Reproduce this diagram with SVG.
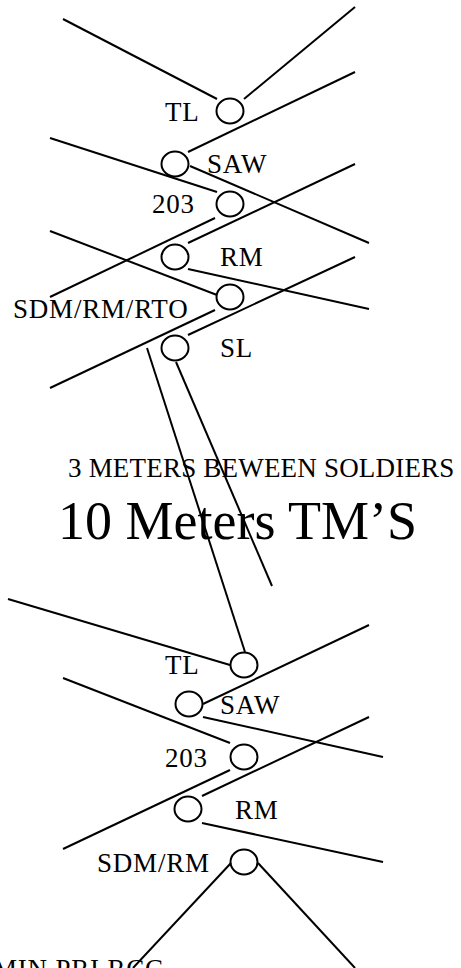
<svg xmlns="http://www.w3.org/2000/svg" width="461" height="968" viewBox="0 0 461 968">
<style>
.n{fill:none;stroke:#000;stroke-width:2}
.c line{stroke:#000;stroke-width:2;fill:none}
text{font-family:"Liberation Serif","Times New Roman",serif;fill:#000;font-size:27px;letter-spacing:0.8px}
.big{font-size:54px;letter-spacing:0}
.t3{letter-spacing:0.2px}
</style>
<rect width="461" height="968" fill="#fff"/>
<g id="connectors" class="c">
<line x1="217" y1="99" x2="63" y2="19"/>
<line x1="244" y1="99" x2="355" y2="7"/>
<line x1="188" y1="152" x2="355" y2="72"/>
<line x1="50" y1="138" x2="217" y2="192"/>
<line x1="190" y1="166" x2="369" y2="243"/>
<line x1="355" y1="164" x2="188" y2="243"/>
<line x1="215" y1="218" x2="50" y2="297"/>
<line x1="50" y1="231" x2="217" y2="295"/>
<line x1="188" y1="269" x2="369" y2="309"/>
<line x1="215" y1="310" x2="50" y2="388"/>
<line x1="188" y1="335" x2="355" y2="257"/>
<line x1="147" y1="348" x2="245" y2="652"/>
<line x1="176" y1="362" x2="272" y2="586"/>
<line x1="230" y1="665" x2="8" y2="599"/>
<line x1="203" y1="704" x2="369" y2="625"/>
<line x1="63" y1="678" x2="230" y2="743"/>
<line x1="203" y1="717" x2="383" y2="757"/>
<line x1="369" y1="717" x2="202" y2="796"/>
<line x1="230" y1="770" x2="63" y2="849"/>
<line x1="202" y1="823" x2="383" y2="862"/>
<line x1="231" y1="863" x2="133" y2="968"/>
<line x1="258" y1="863" x2="355" y2="968"/>
</g>
<g id="tl1"><ellipse class="n" cx="230" cy="111" rx="13.5" ry="12.5"/><text x="165" y="121">TL</text></g>
<g id="saw1"><ellipse class="n" cx="175" cy="164" rx="13.5" ry="12.5"/><text x="207" y="173">SAW</text></g>
<g id="g203a"><ellipse class="n" cx="230" cy="204" rx="13.5" ry="12.5"/><text x="152" y="213">203</text></g>
<g id="rm1"><ellipse class="n" cx="175" cy="257" rx="13.5" ry="12.5"/><text x="220" y="266">RM</text></g>
<g id="sdm1"><ellipse class="n" cx="230" cy="297" rx="13.5" ry="12.5"/><text x="13" y="318">SDM/RM/RTO</text></g>
<g id="sl"><ellipse class="n" cx="175" cy="348" rx="13.5" ry="12.5"/><text x="220" y="357">SL</text></g>
<g id="tl2"><ellipse class="n" cx="244" cy="665" rx="13.5" ry="12.5"/><text x="165" y="674">TL</text></g>
<g id="saw2"><ellipse class="n" cx="189" cy="704" rx="13.5" ry="12.5"/><text x="220" y="714">SAW</text></g>
<g id="g203b"><ellipse class="n" cx="244" cy="757" rx="13.5" ry="12.5"/><text x="165" y="767">203</text></g>
<g id="rm2"><ellipse class="n" cx="188" cy="809" rx="13.5" ry="12.5"/><text x="235" y="819">RM</text></g>
<g id="sdm2"><ellipse class="n" cx="244" cy="862" rx="13.5" ry="12.5"/><text x="97" y="872">SDM/RM</text></g>
<text class="t3" x="68" y="477">3 METERS BEWEEN SOLDIERS</text>
<text class="big" x="58" y="539">10 Meters TM’S</text>
<text x="-7" y="978">MIN PRI RCC</text>
</svg>
